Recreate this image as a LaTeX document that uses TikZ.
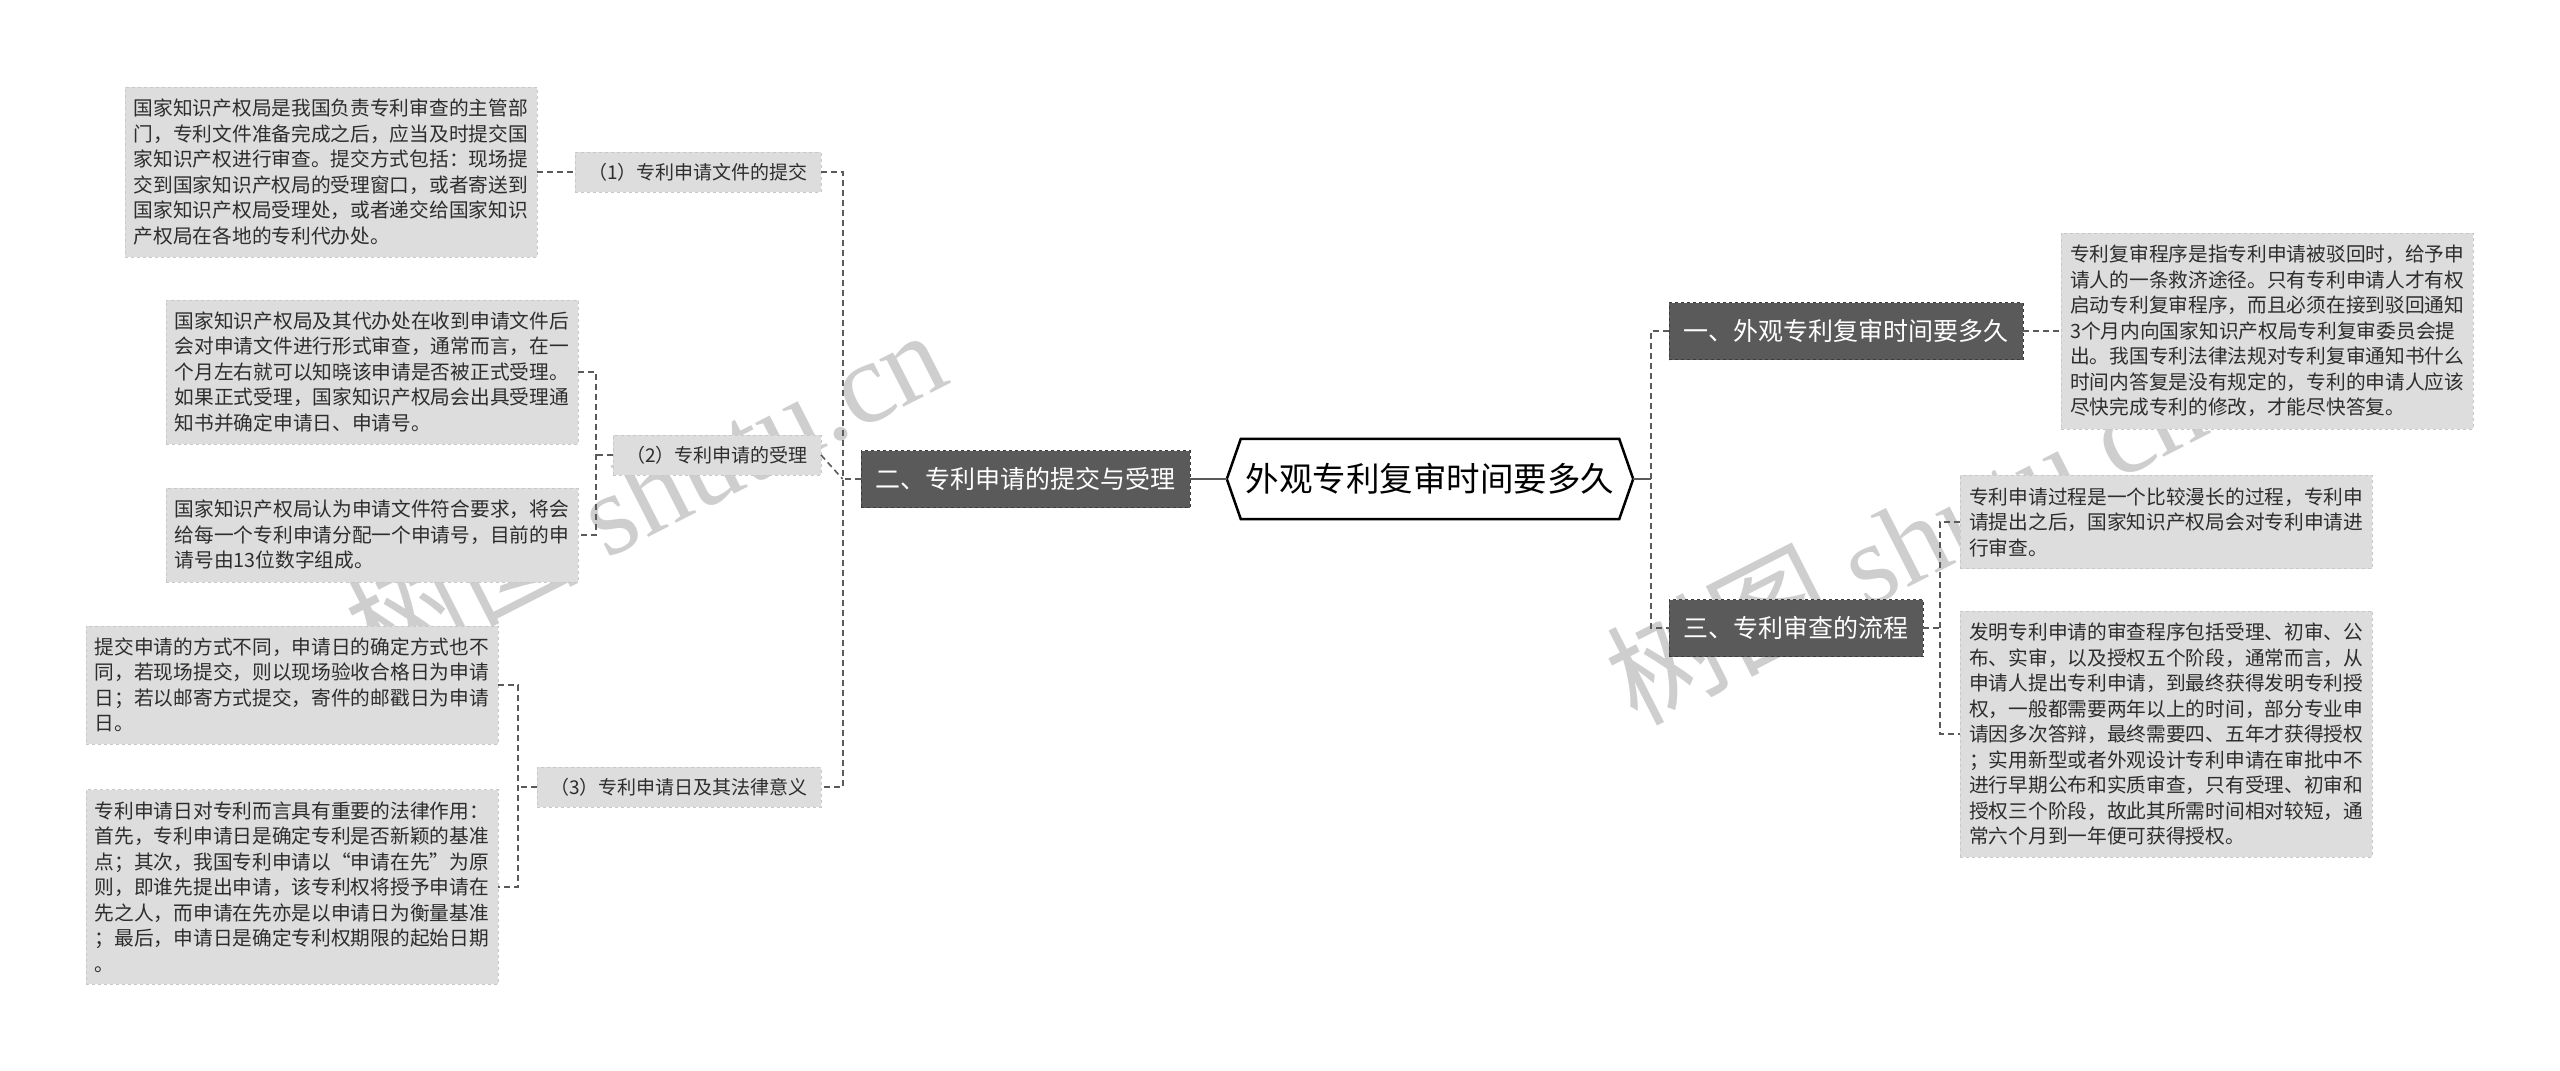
\documentclass[tikz,border=0pt]{standalone}
\usepackage{fontspec}
\setmainfont{Noto Sans CJK SC}
\newfontfamily\wmlatin{Liberation Serif}
\usepackage{tikz}
\usetikzlibrary{positioning, calc}
\definecolor{leaffill}{RGB}{221,221,221}
\definecolor{leafedge}{RGB}{200,200,200}
\definecolor{topicfill}{RGB}{90,90,90}
\definecolor{topicedge}{RGB}{60,60,60}
\definecolor{linkgrey}{RGB}{90,90,90}
\definecolor{inkgrey}{RGB}{45,45,45}
\definecolor{wmgrey}{RGB}{206,206,206}

\begin{document}
\begin{tikzpicture}[x=1pt, y=-1pt,
  root/.style={minimum width=378pt, minimum height=80pt, inner sep=0pt, fill=white, font=\fontsize{33.5}{40}\selectfont},
  topic/.style={draw=topicedge, dashed, fill=topicfill, text=white, minimum height=57pt, inner xsep=14.5pt, inner ysep=0pt, font=\fontsize{25}{30}\selectfont},
  subtopic/.style={draw=leafedge, dashed, fill=leaffill, text=inkgrey, minimum height=40pt, inner xsep=13pt, inner ysep=0pt, font=\fontsize{19}{23}\selectfont},
  leaf/.style={draw=leafedge, dashed, fill=leaffill, text=inkgrey, align=left, inner xsep=9pt, inner ysep=12pt, font=\fontsize{19.7}{25.5}\selectfont},
  link/.style={linkgrey, line width=1.6pt, dash pattern=on 6pt off 4pt},
  trunk/.style={linkgrey, line width=1.6pt},
  rootedge/.style={black, line width=2.5pt, line join=miter},
  wmark/.style={text=wmgrey, inner sep=0pt, font=\fontsize{116}{120}\selectfont}]
\fill[white] (0,0) rectangle (2560,1071);
\useasboundingbox (0,0) rectangle (2560,1071);
% watermarks sit behind the boxes
\node[wmark, rotate=27] (wm1) at (645,490) {树图 {\wmlatin shutu.cn}};
\node[wmark, rotate=27] (wm2) at (1905,540) {树图 {\wmlatin shutu.cn}};
% centre
\node[root] (root) at (1430,479) {外观专利复审时间要多久};
\coordinate (rootL) at ([xshift=-14pt]root.west);
\coordinate (rootR) at ([xshift=14pt]root.east);
\draw[rootedge] (rootL) -- (root.north west) -- (root.north east) -- (rootR)
  -- (root.south east) -- (root.south west) -- cycle;
% main topics
\node[topic, anchor=east] (b2) at (1190,479) {二、专利申请的提交与受理};
\node[topic, anchor=west] (b1) at (1669,331) {一、外观专利复审时间要多久};
\node[topic, anchor=west] (b3) at (1669,628) {三、专利审查的流程};
% left side
\node[subtopic, anchor=east] (s1) at (821,172) {（1）专利申请文件的提交};
\node[subtopic, anchor=east] (s2) at (821,455) {（2）专利申请的受理};
\node[subtopic, anchor=east] (s3) at (821,787) {（3）专利申请日及其法律意义};
\node[leaf, anchor=east] (l1) at (537,172) {国家知识产权局是我国负责专利审查的主管部\\门，专利文件准备完成之后，应当及时提交国\\家知识产权进行审查。提交方式包括：现场提\\交到国家知识产权局的受理窗口，或者寄送到\\国家知识产权局受理处，或者递交给国家知识\\产权局在各地的专利代办处。};
\node[leaf, anchor=east] (l2a) at (578,372) {国家知识产权局及其代办处在收到申请文件后\\会对申请文件进行形式审查，通常而言，在一\\个月左右就可以知晓该申请是否被正式受理。\\如果正式受理，国家知识产权局会出具受理通\\知书并确定申请日、申请号。};
\node[leaf, anchor=east] (l2b) at (578,535) {国家知识产权局认为申请文件符合要求，将会\\给每一个专利申请分配一个申请号，目前的申\\请号由13位数字组成。};
\node[leaf, anchor=east] (l3a) at (498,685) {提交申请的方式不同，申请日的确定方式也不\\同，若现场提交，则以现场验收合格日为申请\\日；若以邮寄方式提交，寄件的邮戳日为申请\\日。};
\node[leaf, anchor=east] (l3b) at (498,887) {专利申请日对专利而言具有重要的法律作用：\\首先，专利申请日是确定专利是否新颖的基准\\点；其次，我国专利申请以“申请在先”为原\\则，即谁先提出申请，该专利权将授予申请在\\先之人，而申请在先亦是以申请日为衡量基准\\；最后，申请日是确定专利权期限的起始日期\\。};
% right side
\node[leaf, anchor=west] (r1) at (2061,331) {专利复审程序是指专利申请被驳回时，给予申\\请人的一条救济途径。只有专利申请人才有权\\启动专利复审程序，而且必须在接到驳回通知\\3个月内向国家知识产权局专利复审委员会提\\出。我国专利法律法规对专利复审通知书什么\\时间内答复是没有规定的，专利的申请人应该\\尽快完成专利的修改，才能尽快答复。};
\node[leaf, anchor=west] (r3a) at (1960,522) {专利申请过程是一个比较漫长的过程，专利申\\请提出之后，国家知识产权局会对专利申请进\\行审查。};
\node[leaf, anchor=west] (r3b) at (1960,734) {发明专利申请的审查程序包括受理、初审、公\\布、实审，以及授权五个阶段，通常而言，从\\申请人提出专利申请，到最终获得发明专利授\\权，一般都需要两年以上的时间，部分专业申\\请因多次答辩，最终需要四、五年才获得授权\\；实用新型或者外观设计专利申请在审批中不\\进行早期公布和实质审查，只有受理、初审和\\授权三个阶段，故此其所需时间相对较短，通\\常六个月到一年便可获得授权。};
% connectors
\draw[trunk] (rootL) -- (b2.east);
\draw[trunk] (rootR) -- ++(18,0) coordinate (rjoin);
\draw[link] (b1.west) -- ++(-18,0) |- (b3.west);
\draw[link] (b2.west) -- ++(-18,0) coordinate (ljoin);
\draw[link] (s1.east) -- ++(22,0) |- (s3.east);
\draw[link] (s2.east) -- (ljoin);
\draw[link] (l1.east) -- (s1.west);
\draw[link] (l2a.east) -- ++(18,0) |- (l2b.east);
\draw[link] (s2.west) -- ++(-20,0);
\draw[link] (l3a.east) -- ++(20,0) |- (l3b.east);
\draw[link] (s3.west) -- ++(-18,0);
\draw[link] (b1.east) -- (r1.west);
\draw[link] (r3a.west) -- ++(-20,0) |- (r3b.west);
\draw[link] (b3.east) -- ++(16,0);
\end{tikzpicture}
\end{document}
